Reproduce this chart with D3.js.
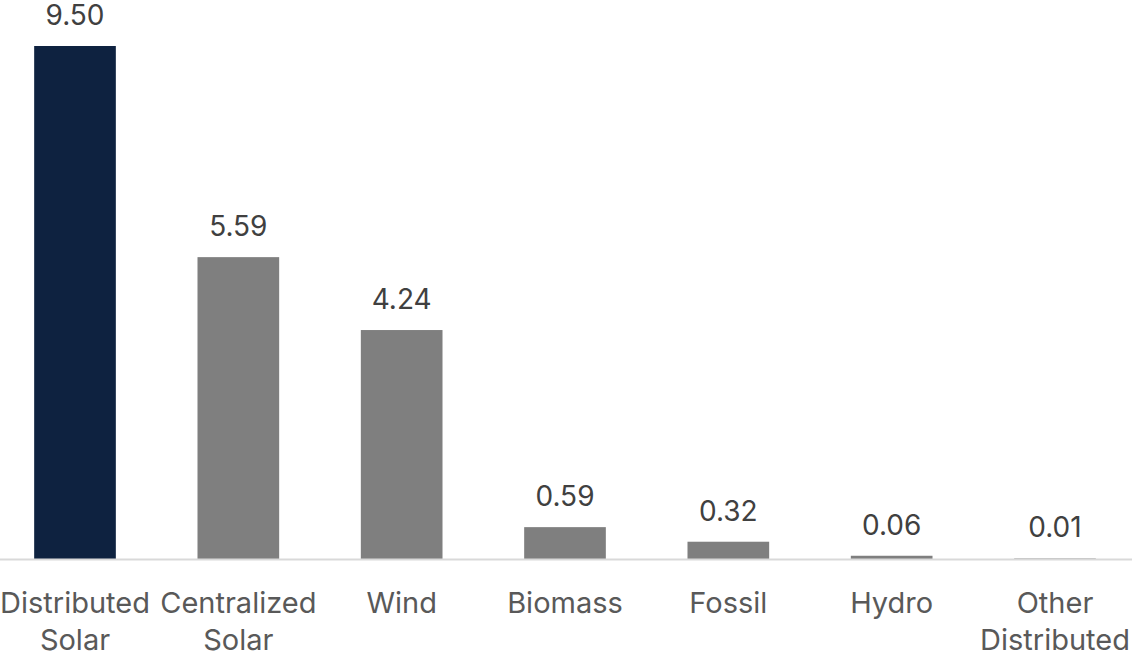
<!DOCTYPE html>
<html>
<head>
<meta charset="utf-8">
<script src="https://cdn.jsdelivr.net/npm/d3@7"></script>
<style>
  html, body { margin: 0; padding: 0; background: #fff; }
  svg { display: block; }
  text { font-family: Inter, "Open Sans", sans-serif; }
</style>
</head>
<body>
<svg id="chart" width="1132" height="653"></svg>
<script>
// Generation additions by source
const categories = [["Distributed", "Solar"], ["Centralized", "Solar"], ["Wind"], ["Biomass"], ["Fossil"], ["Hydro"], ["Other", "Distributed"]];
const values = [9.50, 5.59, 4.24, 0.59, 0.32, 0.06, 0.01];
const highlight = 0; // index of the emphasised bar

const W = 1132, H = 653;
const baseY = 559, topY = 46;

const svg = d3.select("#chart");
const keys = categories.map((c, i) => i);

const x = d3.scaleBand().domain(keys).range([-47.5, 1177.5]).paddingInner(0.5).paddingOuter(0.5);
const y = d3.scaleLinear().domain([0, 9.5]).range([baseY, topY]);

// bars
svg.append("g").selectAll("rect").data(values).join("rect")
  .attr("x", (d, i) => x(i))
  .attr("width", x.bandwidth())
  .attr("y", d => y(d))
  .attr("height", d => baseY - y(d))
  .attr("fill", (d, i) => i === highlight ? "#0E2240" : "#7F7F7F");

// baseline
svg.append("line")
  .attr("x1", 0).attr("x2", W)
  .attr("y1", baseY + 0.5).attr("y2", baseY + 0.5)
  .attr("stroke", "#D9D9D9").attr("stroke-width", 2);

// value labels
svg.append("g").selectAll("text").data(values).join("text")
  .attr("x", (d, i) => x(i) + x.bandwidth() / 2)
  .attr("y", d => y(d) - 21)
  .attr("text-anchor", "middle")
  .attr("font-size", 28)
  .attr("fill", "#404040")
  .text(d => d.toFixed(2));

// category labels
const cat = svg.append("g").selectAll("text").data(categories).join("text")
  .attr("x", (d, i) => x(i) + x.bandwidth() / 2)
  .attr("y", 613)
  .attr("text-anchor", "middle")
  .attr("font-size", 29)
  .attr("fill", "#595959");
cat.selectAll("tspan").data(d => d).join("tspan")
  .attr("x", function () { return d3.select(this.parentNode).attr("x"); })
  .attr("dy", (d, j) => j === 0 ? 0 : 37)
  .text(d => d);
</script>
</body>
</html>
